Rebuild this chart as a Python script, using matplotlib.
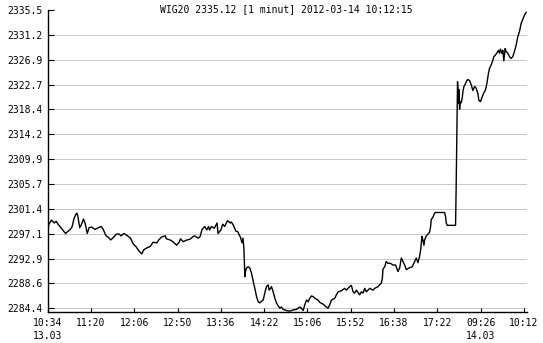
import matplotlib.pyplot as plt

# Notowania WIG20, minuta po minucie (indeks = kolejna minuta sesji)
minuty = [0, 1, 4, 7, 9, 11, 14, 19, 21, 24, 26, 28, 30, 31, 32, 33, 34, 36, 38, 40,
          42, 44, 47, 50, 54, 57, 59, 62, 64, 67, 69, 73, 76, 78, 81, 84, 88, 91, 94, 97,
          100, 102, 105, 109, 112, 116, 118, 121, 125, 126, 130, 133, 137, 140, 141, 144,
          148, 151, 154, 156, 160, 162, 164, 167, 169, 171, 172, 174, 177, 180, 181, 184,
          186, 188, 191, 194, 195, 197, 200, 202, 204,
          205, 206.5, 207.5, 208.5, 209.5, 210.2, 211.3, 213.1, 214.8, 216.6, 218.4, 220.1,
          221.9, 223.7, 225.4, 227.2, 229, 230.7, 232.5, 234.3, 235.3, 236.8, 237.8, 239.6,
          241.4, 243.1, 244.9, 246.7, 248.4, 250.2, 253.7, 257.3, 260.8, 264.3, 267.9, 269.6,
          271.4, 273.2, 275, 276.7, 278.5, 280.3, 282, 283.8, 287.3,
          289.1, 292.6, 296.2, 297.9, 299.7, 301.5, 305, 306.8, 308.6, 312.1, 315.6, 317.4,
          320.9, 322.7, 324.5, 326.2, 328, 329.8, 331.5, 333.3, 335.1, 336.9, 338.6, 340.4,
          342.2, 345.7, 347.5, 351, 352.8, 354.5, 355.6, 356.3, 358.1, 359.8, 361.6, 364.1,
          366.9, 369.7, 372.2, 374, 375.8, 377.5, 379.3, 381.1, 383.9,
          387.4, 389.9, 391.7, 393.4, 395.2, 396.3, 397.7, 398.7, 399.8, 400.5, 402.3, 404.1,
          405.8, 406.9, 407.6, 409.4, 411.1, 412.2, 421.7, 422.8, 423.5, 424.6, 433.4, 434,
          435, 435.5, 436.6, 436.9, 437.7, 438.4, 439.4, 440.5, 441.2, 442.3, 443.7, 445.4,
          446.5, 448.3, 450, 451.8, 453.6, 455.3, 457.1, 458.2, 459.9, 461.7, 463.1, 465.2,
          466.7, 468.4, 469.5, 471.3, 473,
          474.1, 475.8, 477.2, 479, 480.1, 481.1, 482.5, 483.6, 484.7, 486.1, 487.1, 488.9,
          490.7, 492.4, 494.2, 496, 497.8, 499.5, 501.3, 503.1, 504.8, 506.6, 508.4]

kurs = [2297.2, 2298.7, 2299.5, 2299.0, 2299.3, 2298.8, 2298.2, 2297.2, 2297.5, 2297.9,
        2298.4, 2299.8, 2300.5, 2300.7, 2300.2, 2299.2, 2298.2, 2298.8, 2299.7, 2298.8,
        2297.2, 2298.2, 2298.3, 2297.9, 2298.2, 2298.4, 2297.9, 2296.8, 2296.6, 2296.1,
        2296.4, 2297.1, 2297.1, 2296.8, 2297.2, 2296.9, 2296.4, 2295.4, 2294.9, 2294.2,
        2293.7, 2294.4, 2294.7, 2295.0, 2295.7, 2295.6, 2296.1, 2296.6, 2296.8, 2296.3,
        2296.1, 2295.8, 2295.2, 2295.8, 2296.3, 2295.8, 2296.1, 2296.2, 2296.6, 2296.8,
        2296.4, 2296.7, 2297.9, 2298.4, 2297.8, 2298.4, 2297.8, 2298.4, 2298.1, 2299.0,
        2297.2, 2297.8, 2298.8, 2298.4, 2299.4, 2299.0, 2299.2, 2298.7, 2297.6, 2297.5,
        2296.8,
        2296.5, 2295.6, 2296.4, 2294.7, 2289.8, 2290.7, 2291.3, 2291.5, 2291.3, 2290.4,
        2289.0, 2287.8, 2286.4, 2285.5, 2285.3, 2285.6, 2285.8, 2287.0, 2288.1, 2288.4,
        2287.5, 2287.8, 2288.1, 2287.2, 2286.1, 2285.3, 2284.8, 2284.4, 2284.6, 2284.2,
        2284.0, 2283.9, 2284.1, 2284.2, 2284.6, 2284.4, 2284.0, 2285.0, 2285.8, 2285.5,
        2286.1, 2286.5, 2286.4, 2286.1, 2285.8,
        2285.4, 2285.1, 2284.6, 2284.4, 2285.0, 2285.8, 2286.1, 2286.7, 2287.2, 2287.4,
        2287.8, 2287.5, 2288.1, 2288.3, 2287.2, 2287.0, 2287.5, 2287.1, 2286.7, 2287.2,
        2287.0, 2287.8, 2287.2, 2287.5, 2287.8, 2287.5, 2287.8, 2288.1, 2288.4, 2288.7,
        2289.5, 2291.1, 2291.5, 2292.4, 2292.1, 2292.1, 2291.8, 2291.8, 2290.7, 2291.3,
        2293.0, 2292.4, 2291.8, 2291.0, 2291.3,
        2291.5, 2292.4, 2293.0, 2292.2, 2293.3, 2294.4, 2296.7, 2296.1, 2295.2, 2296.1,
        2296.8, 2297.1, 2297.4, 2298.4, 2299.6, 2300.0, 2300.7, 2300.8, 2300.8, 2300.1,
        2299.0, 2298.6, 2298.6, 2304.7, 2317.0, 2323.2, 2319.5, 2321.9, 2318.5, 2319.8,
        2319.6, 2320.4, 2321.5, 2322.4, 2322.8, 2323.4, 2323.6, 2323.4, 2322.7, 2321.7,
        2322.4, 2322.1, 2321.2, 2320.0, 2319.8, 2320.6, 2321.2, 2321.8, 2322.9, 2324.7,
        2325.5, 2326.1, 2326.9,
        2327.5, 2327.8, 2328.1, 2328.6, 2328.1, 2328.8, 2328.1, 2328.6, 2326.8, 2328.9,
        2328.4, 2328.1, 2327.5, 2327.2, 2327.5, 2328.4, 2329.5, 2330.9, 2331.8, 2333.2,
        2333.9, 2334.6, 2335.1]

# Opisy osi
pozycje_x = [0, 46, 92, 138, 184, 230, 276, 322, 368, 414, 460, 506]
etykiety_x = ['10:34\n13.03', '11:20', '12:06', '12:50', '13:36', '14:22', '15:06',
              '15:52', '16:38', '17:22', '09:26\n14.03', '10:12']
pozycje_y = [2284.4 + i * 51.1 / 12 for i in range(13)]
etykiety_y = ['2284.4', '2288.6', '2292.9', '2297.1', '2301.4', '2305.7', '2309.9',
              '2314.2', '2318.4', '2322.7', '2326.9', '2331.2', '2335.5']

plt.rcParams['font.family'] = 'DejaVu Sans Mono'
plt.rcParams['font.size'] = 7

fig = plt.figure(figsize=(5.43, 3.43), dpi=100)
ax = fig.add_axes([47.7 / 543, 31 / 343, 479 / 543, 302 / 343])

# Siatka pozioma (bez linii na samej gorze)
for y in pozycje_y[:-1]:
    ax.axhline(y, color='#c8c8c8', lw=0.72, zorder=1, antialiased=False)

ax.plot(minuty, kurs, color='black', lw=1.0, zorder=3)

ax.set_xlim(0, 509)
ax.set_ylim(2283.75, 2335.5)

ax.set_xticks(pozycje_x)
ax.set_xticklabels(etykiety_x, linespacing=1.45)
ax.set_yticks(pozycje_y)
ax.set_yticklabels(etykiety_y)
ax.tick_params(axis='x', direction='in', length=3, width=0.8, pad=4)
ax.tick_params(axis='y', direction='in', length=4, width=0.8, pad=4)

for s in ['top', 'right']:
    ax.spines[s].set_visible(False)
for s in ['left', 'bottom']:
    ax.spines[s].set_linewidth(1.0)

fig.text(286 / 543, 1 - 12.3 / 343, 'WIG20 2335.12 [1 minut] 2012-03-14 10:12:15',
         ha='center', va='baseline', fontsize=7)

plt.savefig('out.png', dpi=100)
